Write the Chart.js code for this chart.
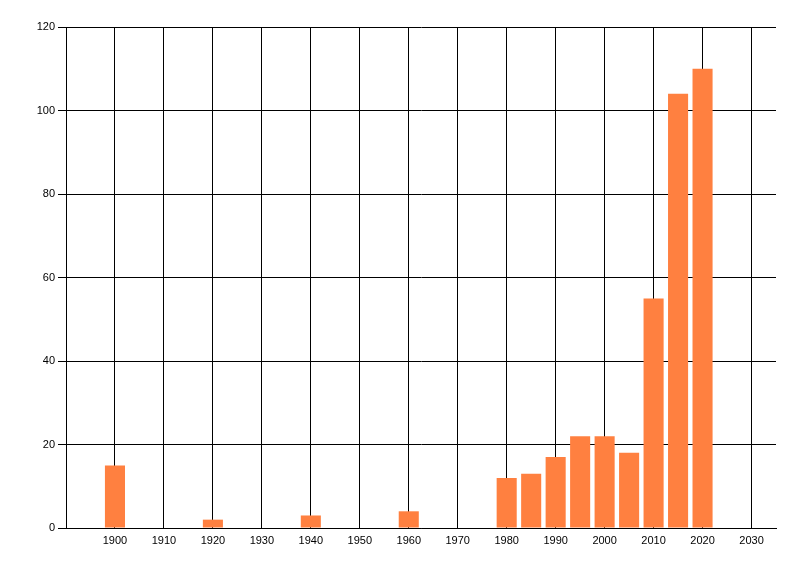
<!DOCTYPE html>
<html>
<head>
<meta charset="utf-8">
<script src="https://cdn.jsdelivr.net/npm/chart.js@4"></script>
<style>
  html, body { margin: 0; padding: 0; background: #fff; }
  #wrap { width: 800px; height: 576px; }
</style>
</head>
<body>
<div id="wrap"><canvas id="chart" width="800" height="576"></canvas></div>
<script>
// data
const years = [1900, 1920, 1940, 1960, 1980, 1985, 1990, 1995, 2000, 2005, 2010, 2015, 2020];
const counts = [15, 2, 3, 4, 12, 13, 17, 22, 22, 18, 55, 104, 110];
const xTicks = [1900, 1910, 1920, 1930, 1940, 1950, 1960, 1970, 1980, 1990, 2000, 2010, 2020, 2030];
const yTicks = [0, 20, 40, 60, 80, 100, 120];

const points = years.map((y, i) => ({ x: y, y: counts[i] }));

Chart.defaults.font.family = '"Liberation Sans", Arial, sans-serif';
Chart.defaults.font.size = 11;
Chart.defaults.color = '#000';

new Chart(document.getElementById('chart'), {
    type: 'bar',
    data: {
        datasets: [{
            data: points,
            backgroundColor: '#FF8040',
            borderWidth: 0,
            barPercentage: 1,
            categoryPercentage: 0.82
        }]
    },
    options: {
        responsive: false,
        animation: false,
        layout: { padding: { left: 0, top: 27, right: 24, bottom: 0 } },
        plugins: { legend: { display: false }, tooltip: { enabled: false } },
        scales: {
            x: {
                type: 'linear',
                min: 1890,
                max: 2035,
                offset: false,
                afterBuildTicks: (s) => { s.ticks = xTicks.map(v => ({ value: v })); },
                afterFit: (s) => { s.height = 48; },
                grid: { color: '#000', lineWidth: 1, drawTicks: false, offset: false },
                border: { color: '#000', width: 1 },
                ticks: { padding: 6, maxRotation: 0, autoSkip: false, callback: (v) => String(v) }
            },
            y: {
                min: 0,
                max: 120,
                afterBuildTicks: (s) => { s.ticks = yTicks.map(v => ({ value: v })); },
                afterFit: (s) => { s.width = 66; },
                grid: { color: '#000', lineWidth: 1, tickLength: 8 },
                border: { color: '#000', width: 1 },
                ticks: { padding: 3, callback: (v) => String(v) }
            }
        }
    }
});
</script>
</body>
</html>
